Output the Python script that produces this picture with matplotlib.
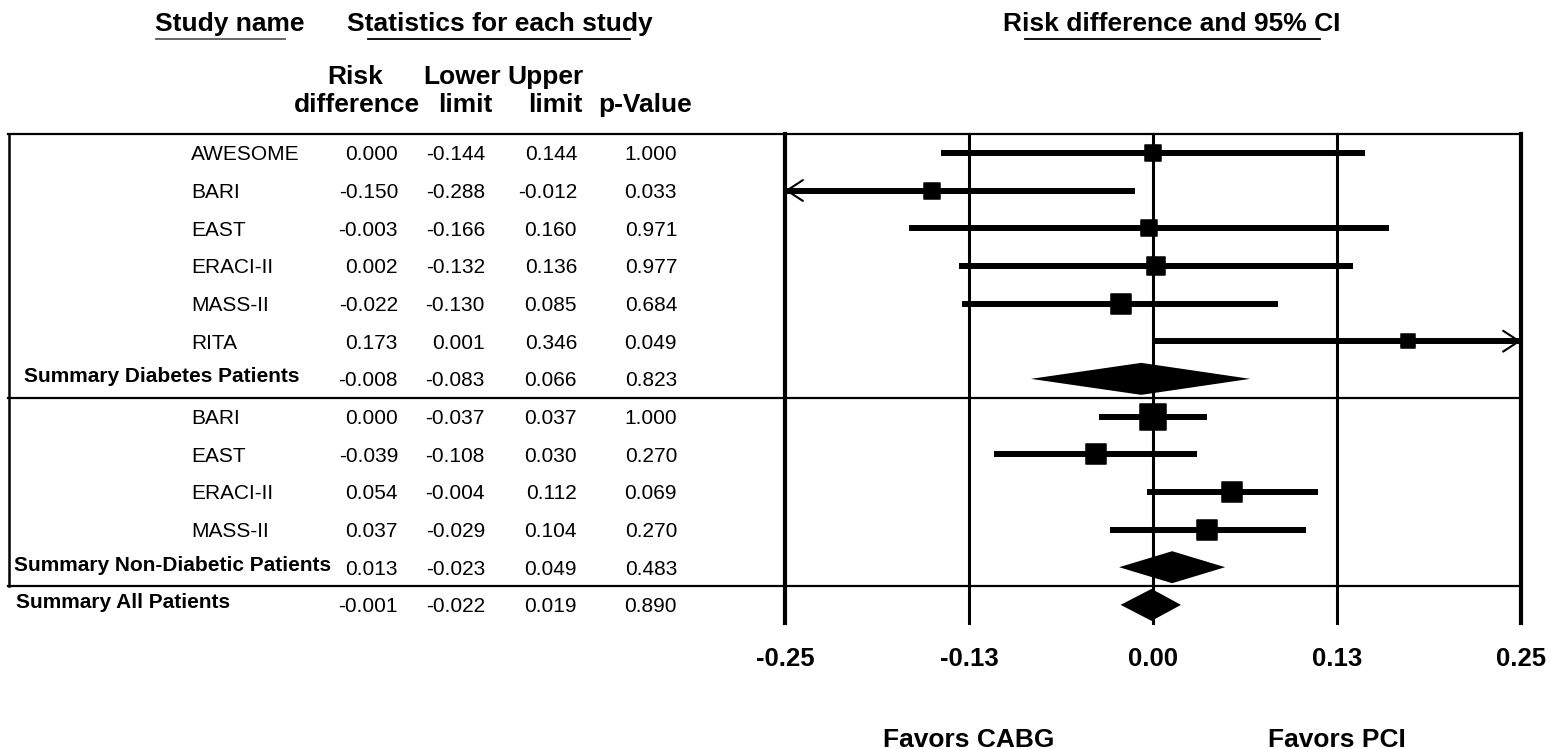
import numpy as np
import matplotlib
matplotlib.use('Agg')
import matplotlib.pyplot as plt
import matplotlib.transforms as mtransforms
from matplotlib.lines import Line2D
from matplotlib.markers import MarkerStyle

# Risk difference (PCI vs CABG) per study, with 95% CI and p-values
study_names = ['AWESOME', 'BARI', 'EAST', 'ERACI-II', 'MASS-II', 'RITA',
               'Summary Diabetes Patients',
               'BARI', 'EAST', 'ERACI-II', 'MASS-II',
               'Summary Non-Diabetic Patients',
               'Summary All Patients']
is_summary = [False, False, False, False, False, False, True,
              False, False, False, False, True, True]
risk_diff = [0.000, -0.150, -0.003, 0.002, -0.022, 0.173, -0.008,
             0.000, -0.039, 0.054, 0.037, 0.013, -0.001]
lower_limit = [-0.144, -0.288, -0.166, -0.132, -0.130, 0.001, -0.083,
               -0.037, -0.108, -0.004, -0.029, -0.023, -0.022]
upper_limit = [0.144, -0.012, 0.160, 0.136, 0.085, 0.346, 0.066,
               0.037, 0.030, 0.112, 0.104, 0.049, 0.019]
p_value = [1.000, 0.033, 0.971, 0.977, 0.684, 0.049, 0.823,
           1.000, 0.270, 0.069, 0.270, 0.483, 0.890]

x_ticks = [-0.25, -0.125, 0.0, 0.125, 0.25]
x_tick_labels = ['-0.25', '-0.13', '0.00', '0.13', '0.25']

plt.rcParams['font.family'] = ['Liberation Sans', 'DejaVu Sans']

# weight boxes (pixels) and left offsets for the summary labels
box_px = [18, 18, 17, 20, 21, 16, 0, 28, 22, 22, 21, 0, 0]
summary_left = {6: 24, 11: 14, 12: 16}

W, H = 1551, 749
fig = plt.figure(figsize=(W / 100, H / 100), dpi=100)
# pixel coordinates, origin top-left
px = mtransforms.Affine2D().scale(1 / W, -1 / H).translate(0, 1) + fig.transFigure

y_top, y_bot = 134, 623
pitch = 37.67
x_left, x_right = 785, 1521
ax = fig.add_axes([x_left / W, (H - y_bot) / H, (x_right - x_left) / W, (y_bot - y_top) / H])
ax.patch.set_alpha(0)
ax.set_xlim(-0.25, 0.25)
ax.set_ylim(-0.5 + (y_bot - y_top) / pitch, -0.5)
for s in ax.spines.values():
    s.set_visible(False)
ax.set_yticks([])
ax.set_xticks(x_ticks, x_tick_labels)
ax.tick_params(axis='x', length=0, pad=17, labelsize=18.5)
for lab in ax.get_xticklabels():
    lab.set_fontweight('bold')

# x in pixels, y in row units
row_tr = mtransforms.blended_transform_factory(px, ax.transData)
text_tr = row_tr + mtransforms.ScaledTranslation(0, -7.5 / 100, fig.dpi_scale_trans)
sum_tr = row_tr + mtransforms.ScaledTranslation(0, -3.5 / 100, fig.dpi_scale_trans)

# reference lines
for t in x_ticks:
    ax.axvline(t, color='black', lw=3.0 if abs(t) == 0.25 else 2.2, zorder=1, clip_on=False)

# table frame
for r in (-0.5, 6.5, 11.5):
    fig.add_artist(Line2D([8, x_right], [r, r], transform=row_tr, color='black', lw=1.6))
fig.add_artist(Line2D([9, 9], [-0.5, 11.5], transform=row_tr, color='black', lw=1.8))

# headers
hdr = dict(fontsize=19, fontweight='bold', va='baseline', transform=px)
fig.text(229.5, 31, 'Study name', ha='center', **hdr)
fig.text(499.5, 31, 'Statistics for each study', ha='center', **hdr)
fig.text(1172, 31, 'Risk difference and 95% CI', ha='center', **hdr)
fig.add_artist(Line2D([156, 285], [39, 39], transform=px, color='0.35', lw=1.3))
fig.add_artist(Line2D([368, 630], [39, 39], transform=px, color='black', lw=1.3))
fig.add_artist(Line2D([1025, 1320], [39, 39], transform=px, color='black', lw=1.3))

fig.text(355, 84, 'Risk', ha='center', **hdr)
fig.text(462, 84, 'Lower', ha='center', **hdr)
fig.text(584, 84, 'Upper', ha='right', **hdr)
fig.text(420, 112, 'difference', ha='right', **hdr)
fig.text(465, 112, 'limit', ha='center', **hdr)
fig.text(583, 112, 'limit', ha='right', **hdr)
fig.text(598, 112, 'p-Value', ha='left', **hdr)

# table rows
rows = np.arange(len(study_names))
for i, r in enumerate(rows):
    if is_summary[i]:
        fig.text(summary_left[i], r, study_names[i], transform=sum_tr, ha='left',
                 va='baseline', fontsize=15, fontweight='bold')
    else:
        fig.text(191, r, study_names[i], transform=text_tr, ha='left',
                 va='baseline', fontsize=15)
    for xr, v in zip((398, 485, 577, 677),
                     (risk_diff[i], lower_limit[i], upper_limit[i], p_value[i])):
        fig.text(xr, r, f'{v:.3f}', transform=text_tr, ha='right',
                 va='baseline', fontsize=15)

# forest marks
half_h = 16 / pitch
for i, r in enumerate(rows):
    rd, lo, hi = risk_diff[i], lower_limit[i], upper_limit[i]
    if is_summary[i]:
        ax.fill([lo, rd, hi, rd], [r, r - half_h, r, r + half_h],
                color='black', lw=0, zorder=4)
        continue
    lo_c, hi_c = max(lo, -0.25), min(hi, 0.25)
    ax.plot([lo_c, hi_c], [r, r], color='black', lw=4.3,
            solid_capstyle='butt', zorder=3, clip_on=False)
    for bound, lim, step in ((lo, -0.25, 0.01), (hi, 0.25, -0.01)):
        if (lim < 0 and bound < lim) or (lim > 0 and bound > lim):
            ax.annotate('', xy=(lim, r), xytext=(lim + step, r),
                        arrowprops=dict(arrowstyle='->,head_length=1.15,head_width=0.75',
                                        lw=1.5, color='black', shrinkA=0, shrinkB=0),
                        annotation_clip=False, zorder=3)
    ax.plot(rd, r, marker=MarkerStyle('s', joinstyle='round'),
            markersize=(box_px[i] - 1.5) * 0.72, mew=1.1,
            color='black', zorder=4, clip_on=False)

# direction labels
fav_tr = mtransforms.blended_transform_factory(ax.transData, px)
fig.text(-0.125, 747, 'Favors CABG', transform=fav_tr, ha='center', va='baseline',
         fontsize=19, fontweight='bold')
fig.text(0.125, 747, 'Favors PCI', transform=fav_tr, ha='center', va='baseline',
         fontsize=19, fontweight='bold')

fig.savefig('out.png', dpi=100)
